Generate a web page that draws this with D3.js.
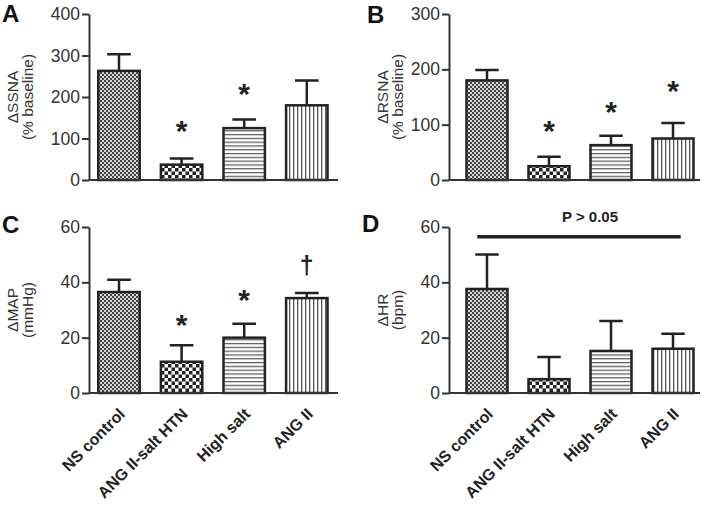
<!DOCTYPE html>
<html>
<head>
<meta charset="utf-8">
<script src="https://cdnjs.cloudflare.com/ajax/libs/d3/7.8.5/d3.min.js"></script>
<style>
  html, body { margin: 0; padding: 0; background: #fff; }
  svg { display: block; }
  text { font-family: "Liberation Sans", Arial, sans-serif; }
</style>
</head>
<body>
<svg id="chart" width="706" height="505"></svg>
<script>
// groups on the x axis
const categories = ["NS control", "ANG II-salt HTN", "High salt", "ANG II"];

// A: delta SSNA (% baseline)
const ssnaMean = [263, 37, 125, 180];
const ssnaSem = [40, 15, 21, 60];
const ssnaMark = ["", "*", "*", ""];
const ssnaMarkAt = [null, 135, 224, null];
const ssnaTicks = [0, 100, 200, 300, 400];

// B: delta RSNA (% baseline)
const rsnaMean = [180, 25, 63, 75];
const rsnaSem = [19, 17, 17, 28];
const rsnaMark = ["", "*", "*", "*"];
const rsnaMarkAt = [null, 101, 135, 173];
const rsnaTicks = [0, 100, 200, 300];

// C: delta MAP (mmHg)
const mapMean = [36.5, 11.3, 20, 34.3];
const mapSem = [4.4, 6, 5, 1.8];
const mapMark = ["", "*", "*", "\u2020"];
const mapMarkAt = [null, 27, 36, 47];
const mapTicks = [0, 20, 40, 60];

// D: delta HR (bpm)
const hrMean = [37.6, 5, 15.2, 16];
const hrSem = [12.5, 8, 10.8, 5.4];
const hrTicks = [0, 20, 40, 60];

const patterns = ["pNS", "pAS", "pHS", "pAN"];

const svg = d3.select("#chart");
const defs = svg.append("defs");

// fine checker
let p = defs.append("pattern").attr("id", "pNS").attr("patternUnits", "userSpaceOnUse")
  .attr("width", 4).attr("height", 4);
p.append("rect").attr("width", 4).attr("height", 4).attr("fill", "#d8d8d8");
p.append("rect").attr("width", 2).attr("height", 2).attr("fill", "#444");
p.append("rect").attr("x", 2).attr("y", 2).attr("width", 2).attr("height", 2).attr("fill", "#444");
// coarse checker
p = defs.append("pattern").attr("id", "pAS").attr("patternUnits", "userSpaceOnUse")
  .attr("width", 7).attr("height", 7);
p.append("rect").attr("width", 7).attr("height", 7).attr("fill", "#fff");
p.append("rect").attr("width", 3.5).attr("height", 3.5).attr("fill", "#222");
p.append("rect").attr("x", 3.5).attr("y", 3.5).attr("width", 3.5).attr("height", 3.5).attr("fill", "#222");
// horizontal lines
p = defs.append("pattern").attr("id", "pHS").attr("patternUnits", "userSpaceOnUse")
  .attr("width", 4).attr("height", 3.8);
p.append("rect").attr("width", 4).attr("height", 3.8).attr("fill", "#fff");
p.append("rect").attr("y", 1).attr("width", 4).attr("height", 1.2).attr("fill", "#555");
// vertical lines
p = defs.append("pattern").attr("id", "pAN").attr("patternUnits", "userSpaceOnUse")
  .attr("width", 4).attr("height", 4);
p.append("rect").attr("width", 4).attr("height", 4).attr("fill", "#fff");
p.append("rect").attr("x", 1).attr("width", 1.3).attr("height", 4).attr("fill", "#555");

function panel(o) {
  const g = svg.append("g");
  const y = d3.scaleLinear().domain([0, o.max]).range([o.y0, o.y1]);
  const x = d3.scaleBand().domain(categories)
    .range([o.c0 - o.step / 2, o.c0 + 3.5 * o.step])
    .paddingInner(0.3).paddingOuter(0.15);

  const ax = g.append("g").attr("transform", `translate(${o.ax},0)`)
    .call(d3.axisLeft(y).tickValues(o.ticks).tickSize(7).tickSizeOuter(0).tickFormat(d3.format("d")));
  ax.select(".domain").attr("stroke", "#333").attr("stroke-width", 2);
  ax.selectAll(".tick line").attr("stroke", "#333").attr("stroke-width", 2);
  ax.selectAll(".tick text").attr("font-size", 17.5).attr("fill", "#333").attr("x", -9);

  const rows = categories.map((c, i) => ({ c, i, m: o.mean[i], s: o.sem[i] }));

  // error bars (upward only)
  g.selectAll(".err").data(rows).enter().append("path")
    .attr("d", d => {
      const cx = x(d.c) + x.bandwidth() / 2, hw = x.bandwidth() * 0.27;
      return `M${cx},${y(d.m)}V${y(d.m + d.s)}M${cx - hw},${y(d.m + d.s)}H${cx + hw}`;
    })
    .attr("stroke", "#222").attr("stroke-width", 2.5).attr("fill", "none");

  g.selectAll(".bar").data(rows).enter().append("rect")
    .attr("x", d => x(d.c) + 1.2).attr("width", x.bandwidth() - 2.4)
    .attr("y", d => y(d.m)).attr("height", d => y(0) - y(d.m))
    .attr("fill", d => `url(#${patterns[d.i]})`)
    .attr("stroke", "#222").attr("stroke-width", 2.5);

  // x baseline
  g.append("line").attr("x1", o.ax).attr("x2", o.xEnd).attr("y1", y(0)).attr("y2", y(0))
    .attr("stroke", "#333").attr("stroke-width", 2);

  if (o.mark) {
    g.selectAll(".mark").data(rows.filter(d => o.mark[d.i])).enter().append("text")
      .attr("x", d => x(d.c) + x.bandwidth() / 2)
      .attr("y", d => y(o.markAt[d.i]) + (o.mark[d.i] === "*" ? 17 : 11))
      .attr("text-anchor", "middle").attr("font-weight", "bold")
      .attr("font-size", d => o.mark[d.i] === "*" ? 30 : 25).attr("fill", "#222")
      .text(d => o.mark[d.i]);
  }

  // axis title
  const ym = (o.y0 + o.y1) / 2;
  o.title.forEach((t, k) => {
    g.append("text").attr("transform", `translate(${o.tx + k * 15},${ym}) rotate(-90)`)
      .attr("text-anchor", "middle").attr("font-size", 15.5).attr("fill", "#333").text(t);
  });

  g.append("text").attr("x", o.lx).attr("y", o.ly).attr("font-size", 24)
    .attr("font-weight", "bold").attr("fill", "#111").text(o.letter);

  if (o.labels) {
    g.selectAll(".xl").data(rows).enter().append("text")
      .attr("transform", d => `translate(${x(d.c) + x.bandwidth() / 2 + 7},${y(0) + 22}) rotate(-45)`)
      .attr("text-anchor", "end").attr("font-size", 16).attr("font-weight", "bold")
      .attr("fill", "#222").text(d => d.c);
  }
  return { x, y, g };
}

panel({ letter: "A", lx: 2, ly: 22, ax: 89, xEnd: 338, c0: 119, step: 62.6, y0: 180, y1: 14,
  max: 400, ticks: ssnaTicks, mean: ssnaMean, sem: ssnaSem, mark: ssnaMark, markAt: ssnaMarkAt,
  title: ["\u0394SSNA", "(% baseline)"], tx: 18 });

panel({ letter: "B", lx: 367, ly: 23, ax: 449, xEnd: 700, c0: 487, step: 62, y0: 180, y1: 14,
  max: 300, ticks: rsnaTicks, mean: rsnaMean, sem: rsnaSem, mark: rsnaMark, markAt: rsnaMarkAt,
  title: ["\u0394RSNA", "(% baseline)"], tx: 388 });

panel({ letter: "C", lx: 2, ly: 233, ax: 89, xEnd: 338, c0: 119, step: 62.6, y0: 393, y1: 227,
  max: 60, ticks: mapTicks, mean: mapMean, sem: mapSem, mark: mapMark, markAt: mapMarkAt,
  title: ["\u0394MAP", "(mmHg)"], tx: 18, labels: true });

const d = panel({ letter: "D", lx: 362, ly: 232, ax: 449, xEnd: 700, c0: 487, step: 62, y0: 393, y1: 227,
  max: 60, ticks: hrTicks, mean: hrMean, sem: hrSem,
  title: ["\u0394HR", "(bpm)"], tx: 388, labels: true });

// P > 0.05 bar across all groups in D
const pLevel = 56.5;
d.g.append("line").attr("x1", d.x(categories[0]) + 12).attr("x2", d.x(categories[3]) + d.x.bandwidth() - 14)
  .attr("y1", d.y(pLevel)).attr("y2", d.y(pLevel)).attr("stroke", "#222").attr("stroke-width", 3.5);
d.g.append("text").attr("x", 590).attr("y", d.y(pLevel) - 15).attr("text-anchor", "middle")
  .attr("font-size", 15).attr("font-weight", "bold").attr("fill", "#222").text("P > 0.05");
</script>
</body>
</html>
